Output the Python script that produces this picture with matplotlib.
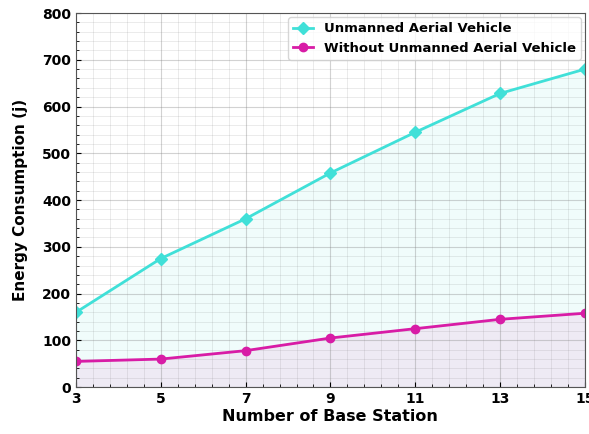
import matplotlib
matplotlib.use('Agg')
import matplotlib.pyplot as plt
from matplotlib.ticker import AutoMinorLocator

# ── Data ──────────────────────────────────────────────────────────────────────
base_stations = [3, 5, 7, 9, 11, 13, 15]
uav = [160, 275, 360, 458, 545, 628, 680]
no_uav = [55, 60, 78, 105, 125, 145, 158]

# ── Plot ──────────────────────────────────────────────────────────────────────
fig, ax = plt.subplots(figsize=(5.89, 4.34), dpi=100)
fig.subplots_adjust(left=0.129, right=0.993, top=0.970, bottom=0.108)

cyan = '#40e0d8'
magenta = '#d81ca6'

ax.plot(base_stations, uav, color=cyan, marker='D', markersize=6, linewidth=2,
        label='Unmanned Aerial Vehicle')
ax.fill_between(base_stations, uav, 0, color=cyan, alpha=0.08)
ax.plot(base_stations, no_uav, color=magenta, marker='o', markersize=6, linewidth=2,
        label='Without Unmanned Aerial Vehicle')
ax.fill_between(base_stations, no_uav, 0, color=magenta, alpha=0.08)

ax.set_xlim(3, 15)
ax.set_ylim(0, 800)
ax.set_xticks(base_stations)
ax.xaxis.set_minor_locator(AutoMinorLocator(5))
ax.yaxis.set_minor_locator(AutoMinorLocator(5))
ax.grid(True, which='major', color='gray', alpha=0.35, linewidth=0.8)
ax.grid(True, which='minor', color='gray', alpha=0.18, linewidth=0.6)
ax.tick_params(which='both', direction='in')
for s in ax.spines.values():
    s.set_color('#555555')

ax.set_xlabel('Number of Base Station', fontsize=11.5, fontweight='bold', labelpad=2)
ax.set_ylabel('Energy Consumption (j)', fontsize=11, fontweight='bold', labelpad=10)
for lbl in ax.get_xticklabels() + ax.get_yticklabels():
    lbl.set_fontweight('bold')
ax.tick_params(labelsize=10)

leg = ax.legend(loc='upper right', prop={'weight': 'bold', 'size': 9.5},
                handlelength=1.5, borderaxespad=0.3)

plt.savefig('out.png', dpi=100)
